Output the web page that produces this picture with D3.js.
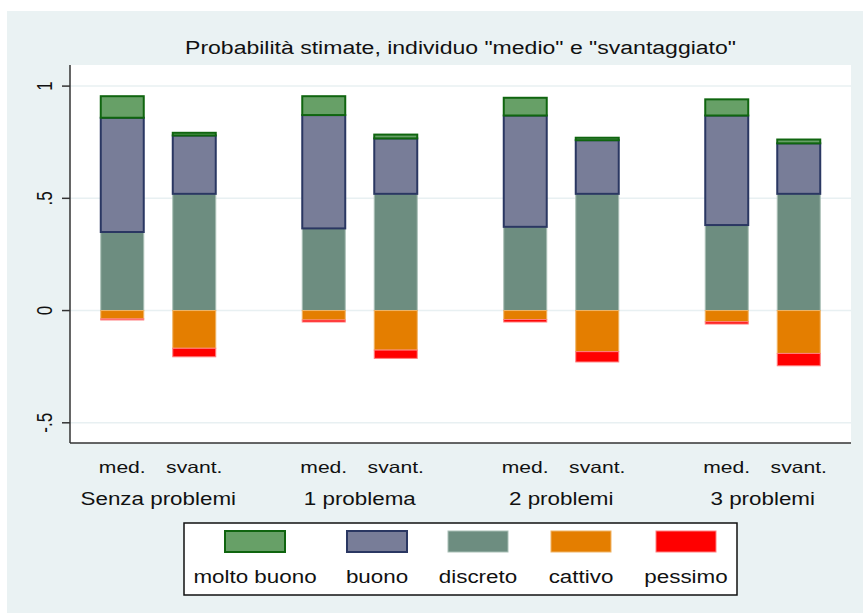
<!DOCTYPE html>
<html>
<head>
<meta charset="utf-8">
<script src="https://cdn.jsdelivr.net/npm/d3@7"></script>
<style>
  html, body { margin: 0; padding: 0; background: #fff; }
  text { font-family: "Liberation Sans", Arial, sans-serif; fill: #111; }
</style>
</head>
<body>
<div id="chart"></div>
<script>
const groups = ["Senza problemi", "1 problema", "2 problemi", "3 problemi"];
const subs = ["med.", "svant."];
const categories = ["molto buono", "buono", "discreto", "cattivo", "pessimo"];

// one value per bar: Senza med, Senza svant, 1 med, 1 svant, 2 med, 2 svant, 3 med, 3 svant
const moltoBuono = [0.096, 0.012, 0.084, 0.017, 0.079, 0.011, 0.072, 0.017];
const buono      = [0.509, 0.260, 0.505, 0.247, 0.496, 0.239, 0.488, 0.225];
const discreto   = [0.350, 0.520, 0.366, 0.520, 0.373, 0.520, 0.381, 0.520];
const cattivo    = [-0.037, -0.168, -0.042, -0.176, -0.040, -0.183, -0.050, -0.191];
const pessimo    = [-0.005, -0.038, -0.009, -0.037, -0.011, -0.046, -0.010, -0.055];

const yTicks = [-0.5, 0, 0.5, 1];
const yTickLabels = ["-.5", "0", ".5", "1"];

const colors = {
  "molto buono": { fill: "#67a067", stroke: "#0f650f", sw: 2 },
  "buono":       { fill: "#787d98", stroke: "#2a3762", sw: 2 },
  "discreto":    { fill: "#6d8d80", stroke: "#a9bfb6", sw: 1 },
  "cattivo":     { fill: "#e47e00", stroke: "#f0b466", sw: 1 },
  "pessimo":     { fill: "#ff0000", stroke: "#ff8080", sw: 1 }
};

const W = 863, H = 613;
const plot = { left: 70, right: 851, top: 65, bottom: 443 };
const sx = 1.28; // horizontal stretch of the original rendering

const svg = d3.select("#chart").append("svg")
  .attr("width", W).attr("height", H);

svg.append("rect").attr("x", 7).attr("y", 11).attr("width", W - 7).attr("height", H - 11)
  .attr("fill", "#eaf2f3");

svg.append("rect")
  .attr("x", plot.left).attr("y", plot.top)
  .attr("width", plot.right - plot.left).attr("height", plot.bottom - plot.top)
  .attr("fill", "#fff");

const y = d3.scaleLinear().domain([-0.59, 1.094]).range([plot.bottom, plot.top]);
const xGroup = d3.scalePoint().domain(groups).range([plot.left, plot.right]).padding(0.438);
const xSub = d3.scalePoint().domain(subs).range([-36, 36]);
const barW = 43;

function label(g, str, x, yy, size, anchor, rot) {
  return g.append("text")
    .attr("transform", `translate(${x},${yy}) scale(${sx},1)` + (rot ? ` rotate(${rot})` : ""))
    .attr("text-anchor", anchor || "middle")
    .style("font-size", size + "px")
    .text(str);
}

// grid
svg.append("g").selectAll("line").data(yTicks).join("line")
  .attr("x1", plot.left).attr("x2", plot.right)
  .attr("y1", d => y(d)).attr("y2", d => y(d))
  .attr("stroke", "#e8f0f2").attr("stroke-width", 1.5);

// bars
const bars = [];
groups.forEach((g, gi) => {
  subs.forEach((s, si) => {
    const i = gi * 2 + si;
    const vals = {
      "discreto": discreto[i], "buono": buono[i], "molto buono": moltoBuono[i],
      "cattivo": cattivo[i], "pessimo": pessimo[i]
    };
    let pos = 0, neg = 0;
    ["discreto", "buono", "molto buono"].forEach(c => {
      bars.push({ c, x: xGroup(g) + xSub(s), y0: pos, y1: pos + vals[c] });
      pos += vals[c];
    });
    ["cattivo", "pessimo"].forEach(c => {
      bars.push({ c, x: xGroup(g) + xSub(s), y0: neg, y1: neg + vals[c] });
      neg += vals[c];
    });
  });
});

const order = ["discreto", "cattivo", "pessimo", "buono", "molto buono"];
bars.sort((a, b) => order.indexOf(a.c) - order.indexOf(b.c));

svg.append("g").selectAll("rect").data(bars).join("rect")
  .attr("x", d => d.x - barW / 2)
  .attr("width", barW)
  .attr("y", d => y(Math.max(d.y0, d.y1)))
  .attr("height", d => Math.abs(y(d.y0) - y(d.y1)))
  .attr("fill", d => colors[d.c].fill)
  .attr("stroke", d => colors[d.c].stroke)
  .attr("stroke-width", d => colors[d.c].sw);

// y axis
const yAxisG = svg.append("g");
yAxisG.append("line")
  .attr("x1", plot.left).attr("x2", plot.left)
  .attr("y1", plot.top).attr("y2", plot.bottom)
  .attr("stroke", "#333").attr("stroke-width", 1.5);
yAxisG.selectAll(".tk").data(yTicks).join("line")
  .attr("x1", plot.left - 8).attr("x2", plot.left)
  .attr("y1", d => y(d)).attr("y2", d => y(d))
  .attr("stroke", "#333").attr("stroke-width", 1.5);
yTicks.forEach((t, i) => {
  label(yAxisG, yTickLabels[i], 52, y(t), 17, "middle", -90);
});

// x axis
svg.append("line")
  .attr("x1", plot.left).attr("x2", plot.right)
  .attr("y1", plot.bottom).attr("y2", plot.bottom)
  .attr("stroke", "#333").attr("stroke-width", 1.5);

groups.forEach(g => {
  subs.forEach(s => label(svg, s, xGroup(g) + xSub(s), 473, 16.5));
  label(svg, g, xGroup(g), 505, 17.5);
});

// title
label(svg, "Probabilità stimate, individuo \"medio\" e \"svantaggiato\"",
  (plot.left + plot.right) / 2, 54, 18);

// legend
const legend = svg.append("g");
legend.append("rect")
  .attr("x", 184).attr("y", 523).attr("width", 553).attr("height", 72)
  .attr("fill", "#fff").attr("stroke", "#111").attr("stroke-width", 1.5);
const legX = [255, 377, 478, 581, 686];
categories.forEach((c, i) => {
  legend.append("rect")
    .attr("x", legX[i] - 30).attr("y", 531)
    .attr("width", 60).attr("height", 21)
    .attr("fill", colors[c].fill)
    .attr("stroke", colors[c].stroke)
    .attr("stroke-width", colors[c].sw);
  label(legend, c, legX[i], 583, 17.5);
});
</script>
</body>
</html>
